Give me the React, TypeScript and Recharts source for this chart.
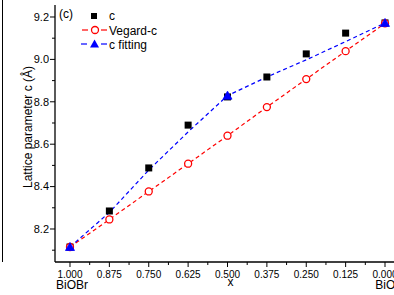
import React from 'react';
import { LineChart, Line, XAxis, YAxis, Legend } from 'recharts';

const xValues = [1.0, 0.875, 0.75, 0.625, 0.5, 0.375, 0.25, 0.125, 0.0];
const cValues = [8.115, 8.285, 8.488, 8.69, 8.823, 8.917, 9.026, 9.124, 9.172];
const vegardValues = [8.115, 8.245, 8.377, 8.508, 8.64, 8.775, 8.907, 9.039, 9.17];
const fitValues = [8.115, 8.278, 8.478, 8.658, 8.829, 8.917, 8.998, 9.084, 9.172];
const fitMarkerX = [1.0, 0.5, 0.0];

const xMajorTicks = [1.0, 0.875, 0.75, 0.625, 0.5, 0.375, 0.25, 0.125, 0.0];
const xMinorTicks = [0.9375, 0.8125, 0.6875, 0.5625, 0.4375, 0.3125, 0.1875, 0.0625];
const yMajorTicks = [8.2, 8.4, 8.6, 8.8, 9.0, 9.2];
const yMinorTicks = [8.1, 8.3, 8.5, 8.7, 8.9, 9.1];
const xEndLabels: Record<string, string> = { '1.000': 'BiOBr', '0.000': 'BiOI' };
const xAxisTitle = 'x';
const yAxisTitle = 'Lattice parameter c (Å)';
const panelTag = '(c)';
const seriesNames = ['c', 'Vegard-c', 'c fitting'];

const data = xValues.map((x, i) => ({ x, c: cValues[i], vegard: vegardValues[i], fit: fitValues[i] }));

const FONT = '"Liberation Sans", Arial, sans-serif';
const isIn = (v: number, arr: number[]) => arr.some((a) => Math.abs(a - v) < 1e-6);

const YTick = (props: any) => {
  const { x, y, payload } = props;
  const major = isIn(payload.value, yMajorTicks);
  return (
    <g>
      <line x1={x} x2={x - (major ? 5 : 3)} y1={y} y2={y} stroke="#000" strokeWidth={1} />
      {major && (
        <text x={x - 6} y={y} dy="0.35em" textAnchor="end" fontSize={11} fontFamily={FONT} fill="#000">
          {payload.value.toFixed(1)}
        </text>
      )}
    </g>
  );
};

const XTick = (props: any) => {
  const { x, y, payload } = props;
  const major = isIn(payload.value, xMajorTicks);
  const lbl = payload.value.toFixed(3);
  return (
    <g>
      <line x1={x} x2={x} y1={y} y2={y + (major ? 5 : 3)} stroke="#000" strokeWidth={1} />
      {major && (
        <text x={x} y={y + 16} textAnchor="middle" fontSize={10} fontFamily={FONT} fill="#000">
          {lbl}
        </text>
      )}
      {major && xEndLabels[lbl] && (
        <text x={x + 2} y={y + 27} textAnchor="middle" fontSize={12} fontFamily={FONT} fill="#000">
          {xEndLabels[lbl]}
        </text>
      )}
      {major && Math.abs(payload.value - 0.5) < 1e-6 && (
        <text x={x + 3} y={y + 24} textAnchor="middle" fontSize={12} fontFamily={FONT} fill="#000">
          {xAxisTitle}
        </text>
      )}
    </g>
  );
};

const SquareDot = (props: any) => {
  const { cx, cy, index } = props;
  if (cx == null || cy == null) return <g key={`s${index}`} />;
  return <rect key={`s${index}`} x={cx - 3.5} y={cy - 3.5} width={7} height={7} fill="#000" />;
};

const TriDot = (props: any) => {
  const { cx, cy, index, payload } = props;
  if (cx == null || cy == null || !isIn(payload.x, fitMarkerX)) return <g key={`t${index}`} />;
  return (
    <path
      key={`t${index}`}
      d={`M${cx},${cy - 4.5}L${cx + 4.5},${cy + 3.5}L${cx - 4.5},${cy + 3.5}Z`}
      fill="#0000ff"
      stroke="#0000ff"
      strokeWidth={0.8}
    />
  );
};

const LegendContent = () => {
  const tx = 109;
  return (
    <svg width={200} height={60} style={{ display: 'block' }}>
      <text x={59} y={18} fontSize={12} fontFamily={FONT} fill="#000">{panelTag}</text>
      <rect x={91} y={13} width={6} height={6} fill="#000" />
      <text x={tx} y={20} fontSize={12} fontFamily={FONT} fill="#000">{seriesNames[0]}</text>
      <line x1={82} x2={88} y1={30} y2={30} stroke="#ff0000" strokeWidth={1.2} />
      <line x1={101} x2={107} y1={30} y2={30} stroke="#ff0000" strokeWidth={1.2} />
      <circle cx={95} cy={30} r={3.5} fill="#fff" stroke="#ff0000" strokeWidth={1.3} />
      <text x={tx} y={34.5} fontSize={12} fontFamily={FONT} fill="#000">{seriesNames[1]}</text>
      <line x1={81} x2={87} y1={44} y2={44} stroke="#0000ff" strokeWidth={1.2} />
      <line x1={101} x2={107} y1={44} y2={44} stroke="#0000ff" strokeWidth={1.2} />
      <path d="M94.5,39.5L99,47.5L90,47.5Z" fill="#0000ff" />
      <text x={tx} y={48.5} fontSize={12} fontFamily={FONT} fill="#000">{seriesNames[2]}</text>
    </svg>
  );
};

export default function App() {
  return (
    <div style={{ position: 'absolute', left: 0, top: 0, width: 394, height: 295, overflow: 'hidden', background: '#fff' }}>
      <div style={{ position: 'absolute', left: 2, top: 0, width: 1, height: 262, background: '#000' }} />
      <LineChart width={402} height={295} data={data} margin={{ top: 5, right: 2, bottom: 0, left: 0 }}>
        <XAxis
          dataKey="x"
          type="number"
          domain={[-0.0476, 1.0476]}
          reversed
          allowDataOverflow
          ticks={[...xMajorTicks, ...xMinorTicks]}
          interval={0}
          tick={<XTick />}
          tickLine={false}
          tickSize={0}
          tickMargin={0}
          height={33}
          axisLine={{ stroke: '#000', strokeWidth: 1.3 }}
        />
        <XAxis
          xAxisId="top"
          dataKey="x"
          type="number"
          orientation="top"
          domain={[-0.0476, 1.0476]}
          reversed
          tick={false}
          tickLine={false}
          height={0}
          axisLine={{ stroke: '#000', strokeWidth: 1.3 }}
        />
        <YAxis
          type="number"
          domain={[8.0443, 9.2566]}
          allowDataOverflow
          ticks={[...yMajorTicks, ...yMinorTicks]}
          interval={0}
          tick={<YTick />}
          tickLine={false}
          tickSize={0}
          tickMargin={0}
          width={55}
          axisLine={{ stroke: '#000', strokeWidth: 1.3 }}
        />
        <Legend
          layout="vertical"
          align="center"
          verticalAlign="middle"
          wrapperStyle={{ position: 'absolute', left: 0, top: 0, width: 200, height: 60 }}
          content={<LegendContent />}
        />
        <Line dataKey="c" stroke="none" dot={<SquareDot />} activeDot={false} isAnimationActive={false} legendType="none" />
        <Line
          dataKey="vegard"
          stroke="#ff0000"
          strokeWidth={1.2}
          strokeDasharray="4 3"
          dot={{ r: 3.5, stroke: '#ff0000', strokeWidth: 1.3, fill: '#fff', strokeDasharray: '0' }}
          activeDot={false}
          isAnimationActive={false}
        />
        <Line
          dataKey="fit"
          stroke="#0000ff"
          strokeWidth={1.2}
          strokeDasharray="4 3"
          dot={<TriDot />}
          activeDot={false}
          isAnimationActive={false}
        />
      </LineChart>
      <svg width={50} height={295} style={{ position: 'absolute', left: 0, top: 0, pointerEvents: 'none' }}>
        <text x={32} y={127} transform="rotate(-90 32 127)" textAnchor="middle" fontSize={12} fontFamily={FONT} fill="#000">
          {yAxisTitle}
        </text>
      </svg>
    </div>
  );
}
